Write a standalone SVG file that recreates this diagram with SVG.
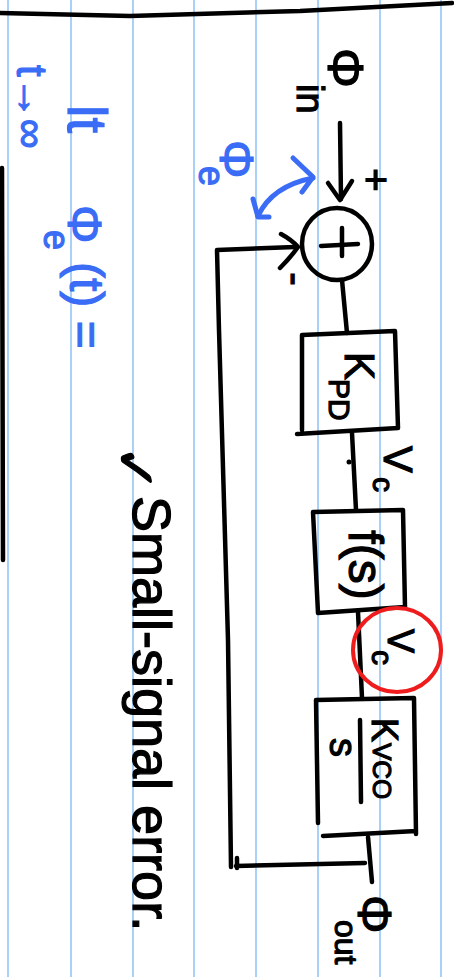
<svg xmlns="http://www.w3.org/2000/svg" width="454" height="977" viewBox="0 0 454 977">
<style>
.paper{stroke:#a9d0f7;stroke-width:2}
.ink{fill:none;stroke:#000;stroke-width:4.5;stroke-linecap:round;stroke-linejoin:round}
.blue{fill:none;stroke:#3a6cf5;stroke-width:5;stroke-linecap:round;stroke-linejoin:round}
.red{fill:none;stroke:#ee1c1c;stroke-width:4}
text{font-family:"Liberation Sans","DejaVu Sans",sans-serif;fill:#000;stroke:#000;stroke-width:1.2}
text.b{fill:#3a6cf5;stroke:#3a6cf5}
</style>
<rect width="454" height="977" fill="#fff"/>
<g id="paper">
<line class="paper" x1="8" y1="0" x2="8" y2="977"/>
<line class="paper" x1="71" y1="0" x2="71" y2="977"/>
<line class="paper" x1="133" y1="0" x2="133" y2="977"/>
<line class="paper" x1="194" y1="0" x2="194" y2="977"/>
<line class="paper" x1="256" y1="0" x2="256" y2="977"/>
<line class="paper" x1="318" y1="0" x2="318" y2="977"/>
<line class="paper" x1="380" y1="0" x2="380" y2="977"/>
<line class="paper" x1="441" y1="0" x2="441" y2="977"/>
<path class="ink" d="M0,13 L130,16 L300,11 L452,3"/>
<path class="ink" d="M2,168 L3,560"/>
</g>
<g id="connectors">
<path class="ink" d="M340,123 L341,199"/>
<path class="ink" d="M328,183 L340,200 L352,181"/>
<path class="ink" d="M365,863 L236,866 M237,858 L237,868 M231,867 L228,640 L219,330 L217,250 L295,247"/>
<path class="ink" d="M281,234 Q292,240 298,247 Q290,258 280,268"/>
<path class="ink" d="M342,280 L347,333"/>
<path class="ink" d="M352,433 L356,510"/>
<circle cx="349" cy="462" r="2.5" fill="#000"/>
<path class="ink" d="M358,612 L362,698"/>
<path class="ink" d="M368,837 L372,882"/>
</g>
<g id="sum">
<ellipse class="ink" cx="337" cy="244" rx="35" ry="36"/>
<path class="ink" d="M321,246 L358,244 M342,228 L342,256"/>
<text transform="translate(376,180) rotate(90)" font-size="40" text-anchor="middle" dy="14">+</text>
<text transform="translate(282,279) rotate(90)" font-size="40" text-anchor="middle">-</text>
</g>
<g id="phi-in">
<text transform="translate(328,48) rotate(90)" font-size="50">Φ</text>
<text transform="translate(297,84) rotate(90)" font-size="38">in</text>
</g>
<g id="kpd">
<path class="ink" d="M302,335 L395,331 L398,428 L297,434 M302,335 L302,430"/>
<text transform="translate(345,352) rotate(90)" font-size="42">K</text>
<text transform="translate(329,379) rotate(90)" font-size="30">PD</text>
</g>
<g id="vc1">
<text transform="translate(384,446) rotate(90)" font-size="40">V</text>
<text transform="translate(373,477) rotate(90)" font-size="30">c</text>
</g>
<g id="fs">
<path class="ink" d="M313,512 L403,510 L405,607 L318,613 Z"/>
<text transform="translate(349,565) rotate(90)" font-size="48" text-anchor="middle">f(s)</text>
</g>
<g id="vc2">
<ellipse class="red" cx="397" cy="650" rx="44" ry="42"/>
<text transform="translate(388,629) rotate(90)" font-size="36">V</text>
<text transform="translate(372,650) rotate(90)" font-size="30">c</text>
</g>
<g id="kvco">
<path class="ink" d="M318,823 L316,700 L414,698 L416,834 M323,836 L416,831"/>
<path class="ink" d="M360,720 L361,802"/>
<text transform="translate(372,718) rotate(90)" font-size="36">K</text>
<text transform="translate(373,743) rotate(90)" font-size="26">VCO</text>
<text transform="translate(330,738) rotate(90)" font-size="38">s</text>
</g>
<g id="phi-out">
<text transform="translate(358,895) rotate(90)" font-size="48">Φ</text>
<text transform="translate(335,920) rotate(90)" font-size="32">out</text>
</g>
<g id="phi-e-label">
<text class="b" transform="translate(220,140) rotate(90)" font-size="48">Φ</text>
<text class="b" transform="translate(199,166) rotate(90)" font-size="36">e</text>
<path class="blue" d="M258,216 Q272,186 313,178"/>
<path class="blue" d="M293,158 L313,177 L302,192"/>
<path class="blue" d="M253,199 L258,217 L269,217"/>
</g>
<g id="limit">
<text class="b" transform="translate(68,105) rotate(90)" font-size="56">lt</text>
<text class="b" transform="translate(17,65) rotate(90)" font-size="42">t→∞</text>
<text class="b" transform="translate(68,205) rotate(90)" font-size="48">Φ</text>
<text class="b" transform="translate(44,230) rotate(90)" font-size="36">e</text>
<text class="b" transform="translate(70,262) rotate(90)" font-size="48">(t) =</text>
</g>
<g id="note">
<text transform="translate(116,445) rotate(90)" font-size="56" font-family="DejaVu Sans">✓</text>
<text transform="translate(133,496) rotate(90)" font-size="54">Small-signal error.</text>
</g>
</svg>
